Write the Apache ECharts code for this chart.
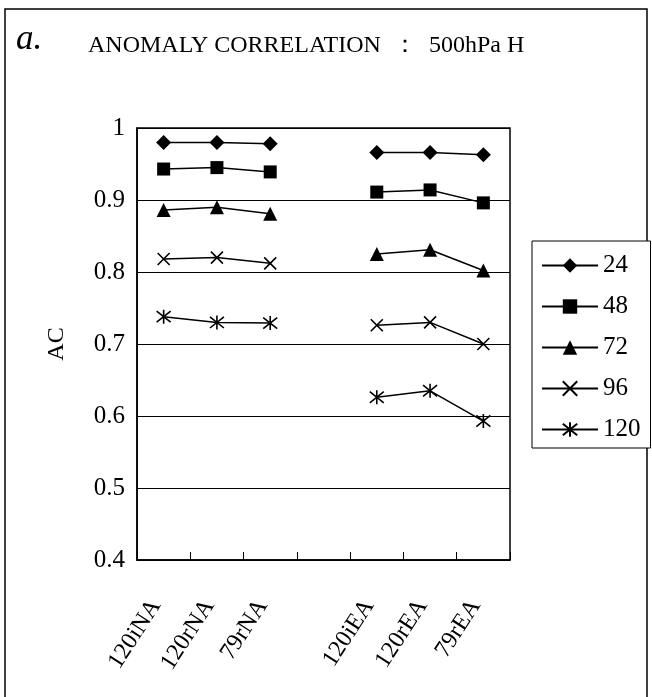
<!DOCTYPE html>
<html>
<head>
<meta charset="utf-8">
<script src="https://cdn.jsdelivr.net/npm/echarts@6/dist/echarts.min.js"></script>
<style>
  html, body { margin: 0; padding: 0; background: #fff; }
  #chart { width: 652px; height: 697px; }
</style>
</head>
<body>
<div id="chart"></div>
<script>
  // forecast experiments, 4th slot left empty as a gap between NA and EA
  const categories = ['120iNA', '120rNA', '79rNA', '', '120iEA', '120rEA', '79rEA']
  const yTickLabels = ['0.4', '0.5', '0.6', '0.7', '0.8', '0.9', '1']
  const seriesNames = ['24', '48', '72', '96', '120']

  const ac24 = [0.980, 0.980, 0.978, null, 0.966, 0.966, 0.963]
  const ac48 = [0.943, 0.945, 0.939, null, 0.911, 0.914, 0.896]
  const ac72 = [0.886, 0.890, 0.881, null, 0.825, 0.831, 0.802]
  const ac96 = [0.818, 0.820, 0.812, null, 0.726, 0.730, 0.700]
  const ac120 = [0.738, 0.730, 0.729, null, 0.626, 0.635, 0.593]

  const serif = '"Liberation Serif", "Times New Roman", serif'
  const crossPath = 'path://M0,0L10,10M10,0L0,10'
  const starPath = 'path://M0,1L10,9M10,1L0,9M5,0L5,10'

  const chart = echarts.init(document.getElementById('chart'))

  function makeSeries (name, data, symbol, size) {
    return {
      name: name,
      type: 'line',
      data: data,
      symbol: symbol,
      symbolSize: size,
      connectNulls: false,
      lineStyle: { color: '#000', width: 1.5 },
      itemStyle: { color: '#000', borderColor: '#000', borderWidth: symbol.indexOf('path') === 0 ? 1.6 : 0 },
      emphasis: { disabled: true },
      animation: false
    }
  }

  const option = {
    backgroundColor: '#fff',
    animation: false,
    graphic: [
      {
        type: 'rect',
        shape: { x: 5, y: 9, width: 642, height: 700 },
        style: { fill: 'none', stroke: '#000', lineWidth: 1.5 }
      },
      {
        type: 'text',
        left: 16,
        top: 22,
        style: { text: 'a.', font: 'italic 35px ' + serif, fill: '#000' }
      },
      {
        type: 'text',
        left: 88,
        top: 34,
        style: { text: 'ANOMALY CORRELATION  ：  500hPa H', font: '24px ' + serif, fill: '#000' }
      }
    ],
    grid: {
      left: 137,
      right: 142,
      top: 128,
      bottom: 137,
      show: true,
      borderColor: '#000',
      borderWidth: 1.5,
      containLabel: false
    },
    legend: {
      orient: 'vertical',
      left: 532,
      top: 241,
      width: 116,
      padding: [12, 10, 6, 9],
      itemWidth: 56,
      itemHeight: 18,
      itemGap: 16,
      borderColor: '#000',
      borderWidth: 1,
      backgroundColor: '#fff',
      selectedMode: false,
      textStyle: { fontFamily: serif, fontSize: 25, color: '#000', lineHeight: 25 },
      data: seriesNames
    },
    xAxis: {
      type: 'category',
      data: categories,
      boundaryGap: true,
      axisLine: { lineStyle: { color: '#000', width: 1.5 } },
      axisTick: { show: true, inside: true, length: 8, lineStyle: { color: '#000' } },
      axisLabel: {
        interval: 0,
        rotate: 57,
        margin: 30,
        padding: [0, 14, 0, 0],
        color: '#000',
        fontFamily: serif,
        fontSize: 24
      },
      splitLine: { show: false }
    },
    yAxis: {
      type: 'value',
      min: 0.4,
      max: 1,
      interval: 0.1,
      name: 'AC',
      nameLocation: 'middle',
      nameRotate: 90,
      nameGap: 68,
      nameTextStyle: { fontFamily: serif, fontSize: 24, color: '#000' },
      axisLine: { show: true, lineStyle: { color: '#000', width: 1.5 } },
      axisTick: { show: false },
      axisLabel: {
        margin: 12,
        color: '#000',
        fontFamily: serif,
        fontSize: 25,
        formatter: function (v) {
          return yTickLabels[Math.round((v - 0.4) * 10)]
        }
      },
      splitLine: { show: true, lineStyle: { color: '#000', width: 1 } }
    },
    series: [
      makeSeries('24', ac24, 'diamond', 15),
      makeSeries('48', ac48, 'rect', 13),
      makeSeries('72', ac72, 'triangle', 14),
      makeSeries('96', ac96, crossPath, 12),
      makeSeries('120', ac120, starPath, 14)
    ]
  }

  chart.setOption(option)
</script>
</body>
</html>
